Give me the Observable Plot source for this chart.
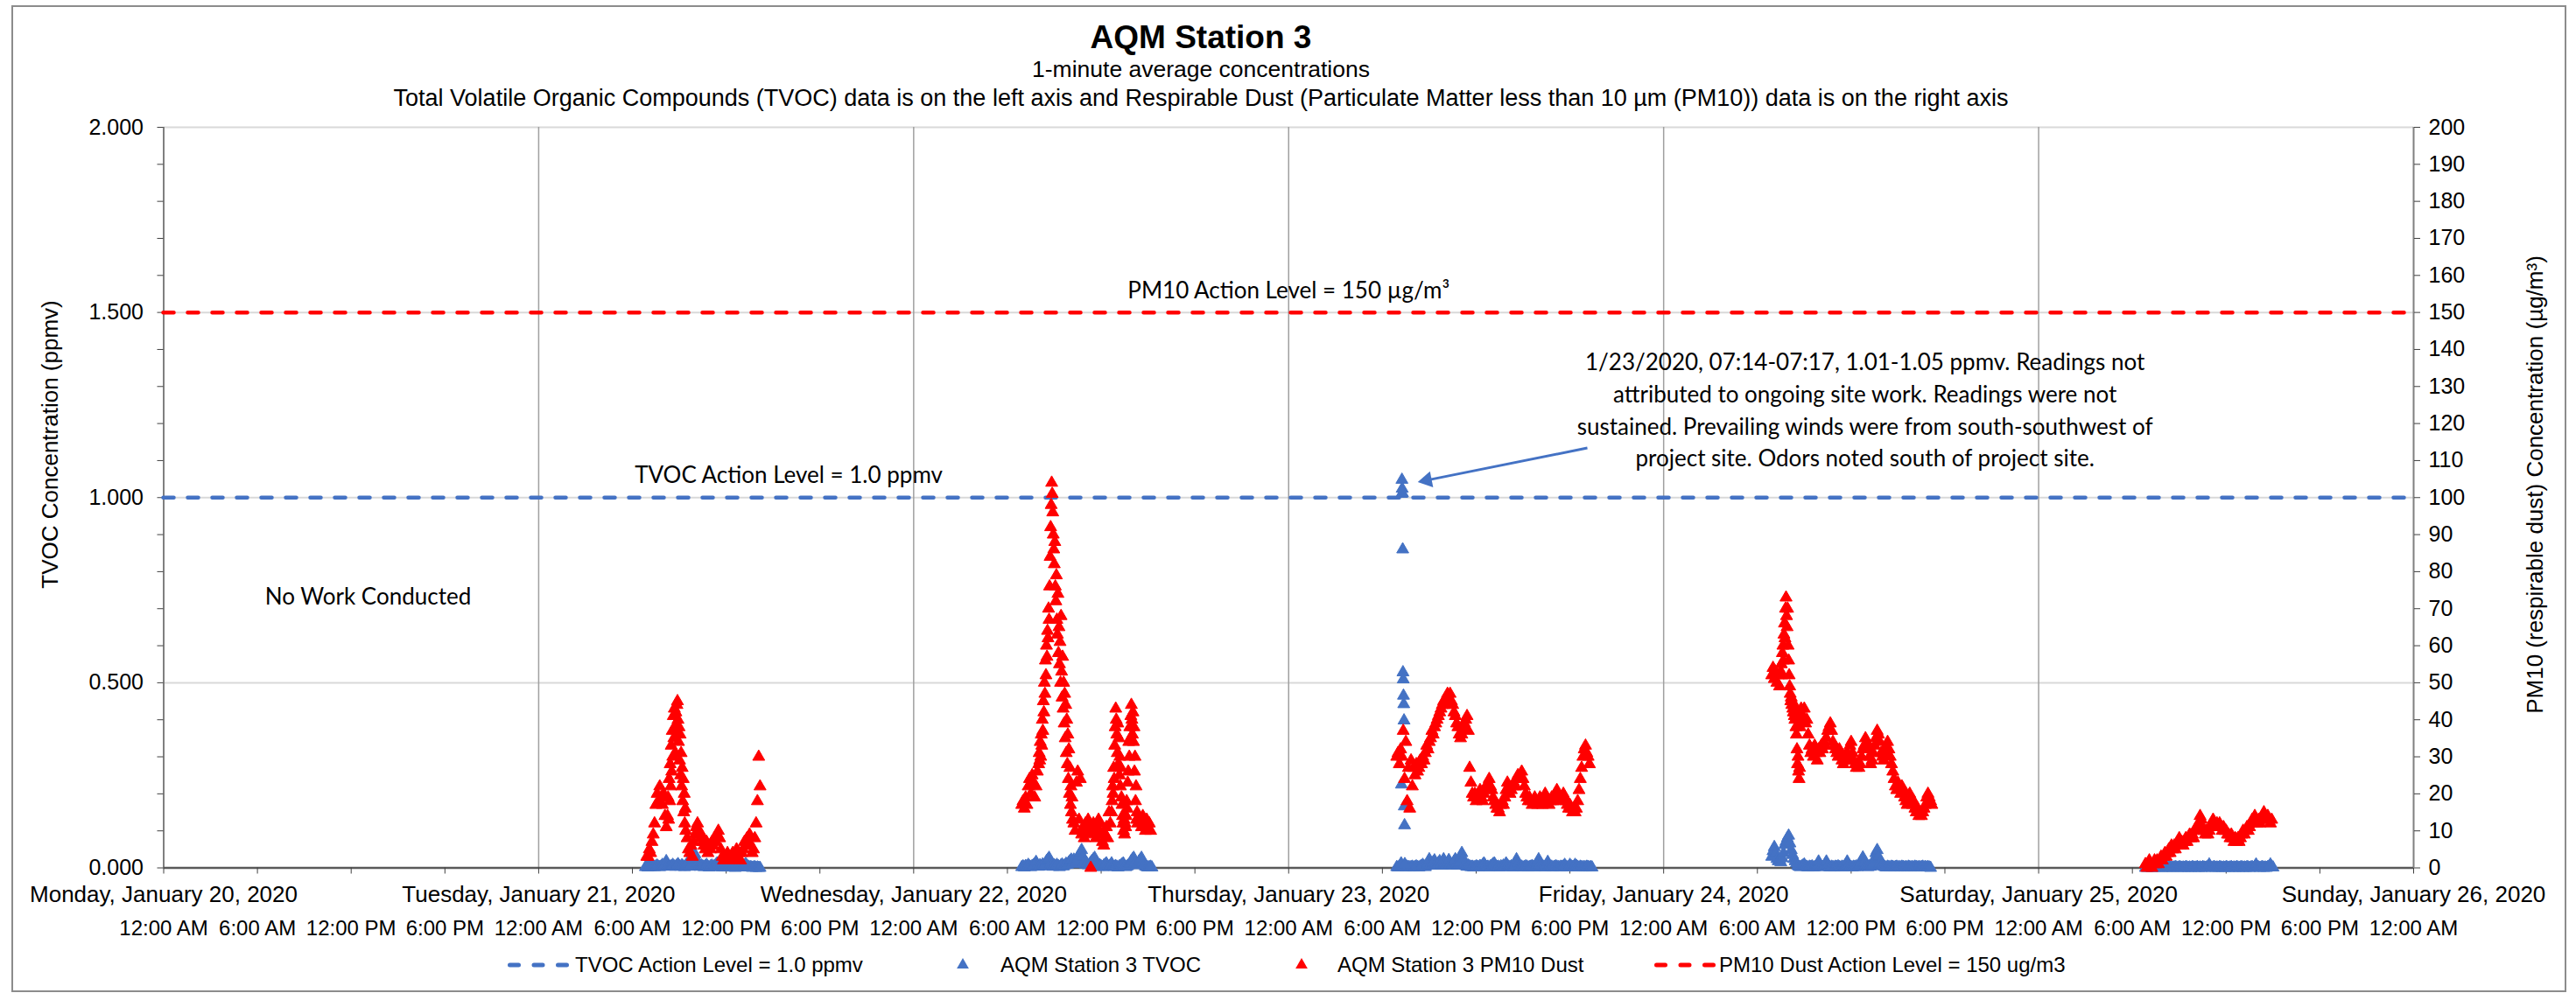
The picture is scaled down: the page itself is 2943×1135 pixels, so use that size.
<!DOCTYPE html>
<html>
<head>
<meta charset="utf-8">
<script src="https://cdn.jsdelivr.net/npm/d3@7"></script>
<script src="https://cdn.jsdelivr.net/npm/@observablehq/plot@0.6"></script>
<style>
  body { margin: 0; background: #fff; }
  #chart { position: relative; width: 2943px; height: 1135px; font-family: Arial, "Liberation Sans", sans-serif; }
  #chart svg { position: absolute; left: 0; top: 0; }
</style>
</head>
<body>
<div id="chart"></div>
<script>
// ---------------- text ----------------
const titleText = "AQM Station 3";
const subtitleText = "1-minute average concentrations";
const subtitle2Text = "Total Volatile Organic Compounds (TVOC) data is on the left axis and Respirable Dust (Particulate Matter less than 10 µm (PM10)) data is on the right axis";
const leftAxisTitle = "TVOC Concentration (ppmv)";
const rightAxisTitle = "PM10 (respirable dust) Concentration (µg/m³)";
const dayLabels = ["Monday, January 20, 2020", "Tuesday, January 21, 2020", "Wednesday, January 22, 2020",
  "Thursday, January 23, 2020", "Friday, January 24, 2020", "Saturday, January 25, 2020", "Sunday, January 26, 2020"];
const timeLabels = ["12:00 AM", "6:00 AM", "12:00 PM", "6:00 PM"];
const leftTicks = [0, 0.1, 0.2, 0.3, 0.4, 0.5, 0.6, 0.7, 0.8, 0.9, 1.0, 1.1, 1.2, 1.3, 1.4, 1.5, 1.6, 1.7, 1.8, 1.9, 2.0];
const leftLabelled = [0, 0.5, 1.0, 1.5, 2.0];
const rightTicks = [0, 10, 20, 30, 40, 50, 60, 70, 80, 90, 100, 110, 120, 130, 140, 150, 160, 170, 180, 190, 200];
const legendLabels = ["TVOC Action Level = 1.0 ppmv", "AQM Station 3 TVOC", "AQM Station 3 PM10 Dust", "PM10 Dust Action Level = 150 ug/m3"];

// action levels
const tvocActionLevel = 1.0;   // ppmv
const pm10ActionLevel = 150;   // ug/m3

// ---------------- TVOC (ppmv) readings ----------------
const tvocJan21Start = "06:50";   // every 5 min
const tvocJan21 = [
  0.002,0.003,0.001,0.004,0.002,0.005,0.003,0.002,0.004,0.006,0.003,0.002,
  0.004,0.008,0.005,0.010,0.018,0.007,0.004,0.003,0.005,0.008,0.004,0.003,
  0.006,0.010,0.005,0.003,0.007,0.004,0.002,0.006,0.012,0.005,0.003,0.008,
  0.022,0.030,0.037,0.024,0.012,0.005,0.003,0.006,0.004,0.002,0.005,0.008,
  0.003,0.001,0.004,0.006,0.003,0.005,0.008,0.012,0.010,0.005,0.002,0.001,
  0.003,0.001,0.002,0.001,0.003,0.001,0.002,0.004,0.001,0.000,0.002,0.003,
  0.001,0.004,0.002,0.005,0.007,0.010,0.006,0.003,0.001,0.002,0.000,0.001,
  0.002,0.000,0.001,0.000,0.000
];
const tvocJan22Start = "06:55";   // every 5 min
const tvocJan22 = [
  0.002,0.004,0.001,0.005,0.003,0.008,0.004,0.002,0.005,0.007,0.010,0.016,
  0.006,0.003,0.007,0.004,0.009,0.005,0.010,0.018,0.022,0.027,0.012,0.006,
  0.003,0.007,0.004,0.008,0.005,0.002,0.006,0.009,0.004,0.007,0.011,0.008,
  0.014,0.018,0.022,0.013,0.022,0.010,0.016,0.026,0.034,0.041,0.048,0.030,
  0.016,0.009,0.012,0.007,0.010,0.014,0.019,0.023,0.027,0.013,0.006,0.003,
  0.007,0.004,0.002,0.006,0.009,0.012,0.005,0.003,0.007,0.012,0.004,0.002,
  0.005,0.003,0.001,0.004,0.006,0.009,0.012,0.005,0.002,0.004,0.007,0.011,
  0.018,0.023,0.027,0.014,0.007,0.011,0.017,0.022,0.027,0.015,0.008,0.004,
  0.002,0.001,0.002,0.003,0.001
];
const tvocJan23Start = "06:55";   // every 5 min
const tvocJan23 = [
  0.002,0.001,0.003,0.002,0.004,0.003,0.002,0.001,0.003,0.002,0.001,0.002,
  0.003,0.001,0.002,0.004,0.002,0.001,0.003,0.005,0.008,0.004,0.002,0.006,
  0.012,0.023,0.010,0.006,0.015,0.020,0.011,0.007,0.013,0.018,0.009,0.006,
  0.023,0.012,0.008,0.014,0.021,0.010,0.006,0.012,0.017,0.023,0.011,0.006,
  0.015,0.028,0.040,0.025,0.010,0.005,0.003,0.006,0.004,0.002,0.003,0.001,
  0.002,0.004,0.003,0.001,0.005,0.003,0.008,0.012,0.006,0.002,0.003,0.001,
  0.004,0.006,0.010,0.012,0.005,0.002,0.003,0.001,0.004,0.003,0.006,0.002,
  0.012,0.006,0.003,0.002,0.004,0.001,0.003,0.010,0.023,0.012,0.004,0.002,
  0.003,0.001,0.002,0.004,0.003,0.001,0.002,0.003,0.005,0.002,0.001,0.006,
  0.014,0.023,0.010,0.004,0.002,0.003,0.001,0.008,0.016,0.006,0.002,0.003,
  0.001,0.002,0.004,0.003,0.002,0.001,0.003,0.002,0.004,0.008,0.003,0.001,
  0.002,0.008,0.004,0.002,0.003,0.008,0.005,0.002,0.001,0.003,0.002,0.001,
  0.002,0.001,0.003,0.002,0.001,0.002,0.001
];
// 1-minute readings around the 07:14-07:17 excursion on 1/23/2020
const tvocJan23PeakStart = "07:12";
const tvocJan23Peak = [0.012,0.225,1.010,1.048,1.024,1.012,0.860,0.528,0.509,0.465,0.442,0.398,0.166,0.115,0.010];
const tvocJan24Start = "06:55";   // every 5 min
const tvocJan24 = [
  0.030,0.045,0.056,0.040,0.024,0.018,0.022,0.015,0.026,0.040,0.062,0.071,
  0.080,0.087,0.066,0.048,0.035,0.024,0.018,0.012,0.006,0.003,0.002,0.004,
  0.006,0.009,0.004,0.002,0.001,0.003,0.002,0.004,0.001,0.002,0.003,0.006,
  0.017,0.008,0.003,0.002,0.004,0.010,0.017,0.006,0.002,0.001,0.003,0.002,
  0.001,0.003,0.002,0.004,0.002,0.001,0.003,0.002,0.004,0.009,0.017,0.008,
  0.003,0.002,0.001,0.003,0.002,0.004,0.002,0.006,0.012,0.020,0.028,0.015,
  0.006,0.003,0.002,0.004,0.003,0.006,0.012,0.025,0.040,0.048,0.030,0.012,
  0.005,0.009,0.004,0.002,0.001,0.003,0.002,0.001,0.003,0.002,0.001,0.002,
  0.003,0.001,0.002,0.001,0.003,0.002,0.001,0.002,0.001,0.003,0.002,0.001,
  0.002,0.001,0.003,0.002,0.001,0.002,0.001,0.002,0.003,0.001,0.002,0.001,
  0.002,0.001,0.000
];
const tvocJan25Start = "06:50";   // every 5 min
const tvocJan25 = [
  0.000,0.001,0.000,0.002,0.001,0.000,0.001,0.000,0.002,0.001,0.000,0.001,
  0.001,0.000,0.002,0.001,0.000,0.001,0.002,0.000,0.001,0.000,0.001,0.002,
  0.001,0.000,0.002,0.001,0.000,0.001,0.000,0.002,0.001,0.000,0.001,0.000,
  0.002,0.001,0.000,0.001,0.002,0.000,0.001,0.000,0.002,0.001,0.000,0.001,
  0.003,0.009,0.002,0.000,0.001,0.002,0.000,0.001,0.000,0.002,0.001,0.000,
  0.001,0.000,0.002,0.001,0.000,0.001,0.002,0.000,0.001,0.000,0.002,0.001,
  0.000,0.001,0.002,0.000,0.001,0.000,0.002,0.001,0.000,0.001,0.002,0.000,
  0.003,0.009,0.002,0.001,0.000,0.001,0.002,0.000,0.001,0.000,0.002,0.004,
  0.009,0.003,0.001
];

// ---------------- PM10 (ug/m3) readings ----------------
// Tuesday 1/21
const pm10Jan21aStart = "06:55";  // every 5 min
const pm10Jan21a = [3,3,5,4,7,9,12,17,20,18,22,19,17,20,14,11];
const pm10Jan21bStart = "08:15";  // every 2 min (main peak)
const pm10Jan21b = [14,19,13,24,18,28,22,33,26,37,30,41,35,43,38,31,42,36,44,45,40,34,38,29,36,25,31,22,27,18,24,15,20,12,16,10];
const pm10Jan21cStart = "09:30";  // every 5 min
const pm10Jan21c = [
  8,5,4,6,3,7,9,11,12,10,8,9,7,6,5,7,4,6,5,7,6,8,7,9,10,8,5,3,2,3,2,4,3,2,3,4,2,3,5,3,
  4,2,4,5,7,6,8,7,9,6,4,5,8,12,18,30,22
];
// Wednesday 1/22
const pm10Jan22aStart = "06:55";  // every 5 min
const pm10Jan22a = [17,18,16,19,17,22,24,20,25,23,19,22,26];
const pm10Jan22bStart = "08:00";  // every 2 min (morning peak)
const pm10Jan22b = [
  28,31,29,34,30,36,33,40,37,45,42,50,47,56,52,60,57,64,62,70,67,76,84,92,98,104,101,96,90,86,
  82,88,76,72,79,67,63,74,58,65,55,61,50,68,53,46,57,43,50,39,47,35,44,31,40,28,36,24,32,20,
  27,17,22,15,19,13
];
const pm10Jan22cStart = "10:15";  // every 5 min
const pm10Jan22c = [12,10,23,26,13,24,9,11,8,12,10,13,9,0,11,12,10,8,11,13,12,9,7,6,9,11,8,15,12];
const pm10Jan22dStart = "12:40";  // every 2 min (afternoon peaks)
const pm10Jan22d = [
  15,18,22,20,27,24,33,38,43,40,36,31,39,28,35,25,30,22,27,19,17,14,12,10,13,9,12,11,14,18,
  16,23,26,34,30,38,35,41,44,40,36,42,34,38,26,30,18,22,13,15
];
const pm10Jan22eStart = "14:20";  // every 5 min
const pm10Jan22e = [12,14,13,11,14,12,10,13,11,12,10];
// Thursday 1/23
const pm10Jan23Start = "06:55";   // every 5 min
const pm10Jan23 = [
  30,31,28,32,30,37,24,34,18,27,16,29,
  22,27,25,28,26,27,29,28,30,29,31,33,
  32,34,35,37,36,38,39,40,41,42,43,44,
  45,44,46,47,46,47,45,44,42,41,39,38,
  36,35,36,38,39,40,41,37,27,23,20,19,
  20,18,19,20,21,19,18,20,21,22,23,24,
  22,21,19,18,17,16,16,15,17,18,17,19,
  21,23,22,20,21,22,23,22,24,25,24,25,
  26,24,22,20,19,18,19,18,17,18,19,18,
  17,18,19,18,17,19,20,19,18,17,18,19,
  18,19,20,21,20,19,18,19,20,19,18,17,
  16,17,16,15,16,15,16,18,21,24,27,30,
  32,33,31,30,28
];
// Friday 1/24
const pm10Jan24aStart = "06:55";  // every 5 min
const pm10Jan24a = [52,54,51,53,50,52,49];
const pm10Jan24bStart = "07:30";  // every 2 min
const pm10Jan24b = [53,55,52,58,60,56,63,66,62,70,73,68,65,70,60,56,52,49,47,45,46,44,45,43,42,44,41,40,42,38,36,32,28,30,26,24,27,38,41,43,40];
const pm10Jan24cStart = "08:55";  // every 5 min
const pm10Jan24c = [
  41,43,39,40,36,33,31,32,30,33,31,29,
  32,31,33,32,34,33,35,37,38,39,37,34,
  33,32,31,30,32,31,29,28,30,29,31,30,
  33,34,31,29,28,27,28,27,28,30,32,33,
  35,34,32,30,28,29,31,33,35,37,36,34,
  31,30,29,31,33,34,32,30,28,26,24,22,
  21,23,22,20,22,21,19,18,17,19,20,18,
  17,18,16,15,16,14,15,14,15,16,17,19,
  20,19,18,17
];
// Saturday 1/25
const pm10Jan25Start = "06:50";   // every 5 min
const pm10Jan25 = [
  1,0,1,2,1,0,1,2,1,2,1,2,
  3,2,3,4,3,4,5,4,6,5,6,5,
  6,7,8,6,7,6,7,8,7,8,9,8,
  9,8,10,11,10,12,14,13,11,10,9,10,
  9,10,11,12,13,12,11,12,11,12,11,10,
  11,10,10,9,9,8,9,8,7,8,7,8,
  7,8,9,10,9,10,11,10,11,12,13,12,
  14,13,12,13,12,13,14,15,14,13,14,13,
  12,13
];

// ---------------- annotations (data space) ----------------
const noteTexts = [
  "PM10 Action Level = 150 µg/m³",
  "TVOC Action Level = 1.0 ppmv",
  "No Work Conducted",
  "1/23/2020, 07:14-07:17, 1.01-1.05 ppmv. Readings not\nattributed to ongoing site work. Readings were not\nsustained. Prevailing winds were from south-southwest of\nproject site. Odors noted south of project site."
];
const noteTimes = ["2020-01-23T00:00Z", "2020-01-21T16:00Z", "2020-01-20T13:05Z", "2020-01-24T12:53Z"];
const noteValues = [1.565, 1.068, 0.739, 1.241]; // on the ppmv axis
const arrowFrom = {t: "2020-01-23T19:07Z", v: 1.134};
const arrowTo = {t: "2020-01-23T08:16Z", v: 1.042};

// ---------------- build tables ----------------
function readings(day, start, stepMin, values) {
  const [hh, mm] = start.split(":").map(Number);
  const base = Date.UTC(2020, 0, day, hh, mm);
  return values.map((v, i) => ({t: new Date(base + i * stepMin * 60000), v}));
}
const tvoc = [
  ...readings(21, tvocJan21Start, 5, tvocJan21),
  ...readings(22, tvocJan22Start, 5, tvocJan22),
  ...readings(23, tvocJan23Start, 5, tvocJan23),
  ...readings(23, tvocJan23PeakStart, 1, tvocJan23Peak),
  ...readings(24, tvocJan24Start, 5, tvocJan24),
  ...readings(25, tvocJan25Start, 5, tvocJan25)
];
const pm10 = [
  ...readings(21, pm10Jan21aStart, 5, pm10Jan21a),
  ...readings(21, pm10Jan21bStart, 2, pm10Jan21b),
  ...readings(21, pm10Jan21cStart, 5, pm10Jan21c),
  ...readings(22, pm10Jan22aStart, 5, pm10Jan22a),
  ...readings(22, pm10Jan22bStart, 2, pm10Jan22b),
  ...readings(22, pm10Jan22cStart, 5, pm10Jan22c),
  ...readings(22, pm10Jan22dStart, 2, pm10Jan22d),
  ...readings(22, pm10Jan22eStart, 5, pm10Jan22e),
  ...readings(23, pm10Jan23Start, 5, pm10Jan23),
  ...readings(24, pm10Jan24aStart, 5, pm10Jan24a),
  ...readings(24, pm10Jan24bStart, 2, pm10Jan24b),
  ...readings(24, pm10Jan24cStart, 5, pm10Jan24c),
  ...readings(25, pm10Jan25Start, 5, pm10Jan25)
];
const notes = noteTexts.map((text, i) => ({text, t: new Date(noteTimes[i]), v: noteValues[i]}));

const t0 = new Date(Date.UTC(2020, 0, 20));
const t1 = new Date(Date.UTC(2020, 0, 26));
const dayTicks = d3.utcDay.range(t0, new Date(+t1 + 1));
const sixHourTicks = d3.utcHour.every(6).range(t0, new Date(+t1 + 1));
const innerDays = dayTicks.slice(1, -1);

const BLUE = "#4472C4", RED = "#FF0000";
const TRI_R = 5.1;

// arrow geometry
const aFrom = {t: new Date(arrowFrom.t), v: arrowFrom.v};
const aTo = {t: new Date(arrowTo.t), v: arrowTo.v};
const headFrac = 0.054;
const aHead = {t: new Date(+aTo.t + (aFrom.t - aTo.t) * headFrac), v: aTo.v + (aFrom.v - aTo.v) * headFrac};

const W = 2943, H = 1135;
const plot = Plot.plot({
  width: W, height: H,
  marginLeft: 186.5, marginRight: 186, marginTop: 145, marginBottom: 143.5,
  style: {fontFamily: "Arial, 'Liberation Sans', sans-serif", fontSize: "24px", background: "transparent", overflow: "visible", color: "#000"},
  x: {type: "utc", domain: [t0, t1]},
  y: {domain: [0, 2]},
  marks: [
    Plot.ruleY([0.5, 1.0, 1.5, 2.0], {stroke: "#d9d9d9", strokeWidth: 2}),
    Plot.ruleX(innerDays, {stroke: "#a0a0a0", strokeWidth: 1.5}),
    Plot.ruleX([t0, t1], {stroke: "#808080", strokeWidth: 2}),
    Plot.ruleY([0], {stroke: "#595959", strokeWidth: 2.5}),
    Plot.axisY({anchor: "left", ticks: leftTicks, tickSize: 7, tickPadding: 16, fontSize: 25, label: null,
      stroke: "#404040",
      tickFormat: d => leftLabelled.some(m => Math.abs(m - d) < 1e-9) ? d3.format(".3f")(d) : ""}),
    Plot.axisY({anchor: "right", ticks: rightTicks.map(v => v / 100), tickSize: 7, tickPadding: 10, fontSize: 25, label: null,
      stroke: "#404040",
      tickFormat: d => String(Math.round(d * 100))}),
    Plot.axisX({anchor: "bottom", ticks: sixHourTicks, tickSize: 7, tickPadding: 53, fontSize: 24, label: null,
      stroke: "#404040",
      tickFormat: d => timeLabels[d.getUTCHours() / 6]}),
    Plot.axisX({anchor: "bottom", ticks: dayTicks, tickSize: 0, tickPadding: 21, fontSize: 26, label: null,
      tickFormat: d => dayLabels[Math.round((d - t0) / 864e5)]}),
    Plot.ruleY([tvocActionLevel], {stroke: BLUE, strokeWidth: 4.5, strokeDasharray: "12,16", strokeLinecap: "round"}),
    Plot.dot(tvoc, {x: "t", y: "v", symbol: "triangle", r: TRI_R, fill: BLUE, stroke: BLUE, strokeWidth: 1}),
    Plot.dot(pm10, {x: "t", y: d => d.v / 100, symbol: "triangle", r: TRI_R, fill: RED, stroke: RED, strokeWidth: 1}),
    Plot.ruleY([pm10ActionLevel / 100], {stroke: RED, strokeWidth: 4.5, strokeDasharray: "12,16", strokeLinecap: "round"}),
    Plot.text(notes, {x: "t", y: "v", text: "text", fontFamily: "Lato, 'Open Sans', sans-serif", fontSize: 26,
      lineHeight: 1.41, textAnchor: "middle", lineAnchor: "middle", fill: "#000"}),
    Plot.link([{a: aFrom, b: aHead}], {x1: d => d.a.t, y1: d => d.a.v, x2: d => d.b.t, y2: d => d.b.v, stroke: BLUE, strokeWidth: 3}),
    Plot.dot([aHead], {x: "t", y: "v", symbol: "triangle", r: 6.9, fill: BLUE, rotate: -101.3})
  ]
});

const root = d3.select("#chart");
root.node().appendChild(plot);

// overlay: frame, titles, axis titles, legend
const ov = root.append("svg").attr("width", W).attr("height", H)
  .attr("font-family", "Arial, 'Liberation Sans', sans-serif").style("pointer-events", "none");
ov.append("rect").attr("x", 14).attr("y", 7).attr("width", 2917).attr("height", 1126)
  .attr("fill", "none").attr("stroke", "#8c8c8c").attr("stroke-width", 2);
const TX = 1372;
ov.append("text").attr("x", TX).attr("y", 55).attr("text-anchor", "middle").attr("font-weight", "bold")
  .attr("font-size", 37).text(titleText);
ov.append("text").attr("x", TX).attr("y", 88).attr("text-anchor", "middle").attr("font-size", 26.5).text(subtitleText);
ov.append("text").attr("x", TX).attr("y", 121).attr("text-anchor", "middle").attr("font-size", 27).text(subtitle2Text);
ov.append("text").attr("transform", "translate(66,508) rotate(-90)").attr("text-anchor", "middle")
  .attr("font-size", 26).text(leftAxisTitle);
ov.append("text").attr("transform", "translate(2905,554) rotate(-90)").attr("text-anchor", "middle")
  .attr("font-size", 26).text(rightAxisTitle);

// legend
const LY = 1103, LB = 1111;
const tri = d3.symbol(d3.symbolTriangle, Math.PI * TRI_R * TRI_R)();
ov.append("line").attr("x1", 582.5).attr("x2", 647.5).attr("y1", LY).attr("y2", LY)
  .attr("stroke", BLUE).attr("stroke-width", 5).attr("stroke-dasharray", "10,17.5").attr("stroke-linecap", "round");
ov.append("text").attr("x", 657).attr("y", LB).attr("font-size", 24).text(legendLabels[0]);
ov.append("path").attr("d", tri).attr("transform", `translate(1100,${LY})`).attr("fill", BLUE);
ov.append("text").attr("x", 1143).attr("y", LB).attr("font-size", 24).text(legendLabels[1]);
ov.append("path").attr("d", tri).attr("transform", `translate(1487,${LY})`).attr("fill", RED);
ov.append("text").attr("x", 1528).attr("y", LB).attr("font-size", 24).text(legendLabels[2]);
ov.append("line").attr("x1", 1892.5).attr("x2", 1957.5).attr("y1", LY).attr("y2", LY)
  .attr("stroke", RED).attr("stroke-width", 5).attr("stroke-dasharray", "10,17.5").attr("stroke-linecap", "round");
ov.append("text").attr("x", 1964).attr("y", LB).attr("font-size", 24).text(legendLabels[3]);
</script>
</body>
</html>
